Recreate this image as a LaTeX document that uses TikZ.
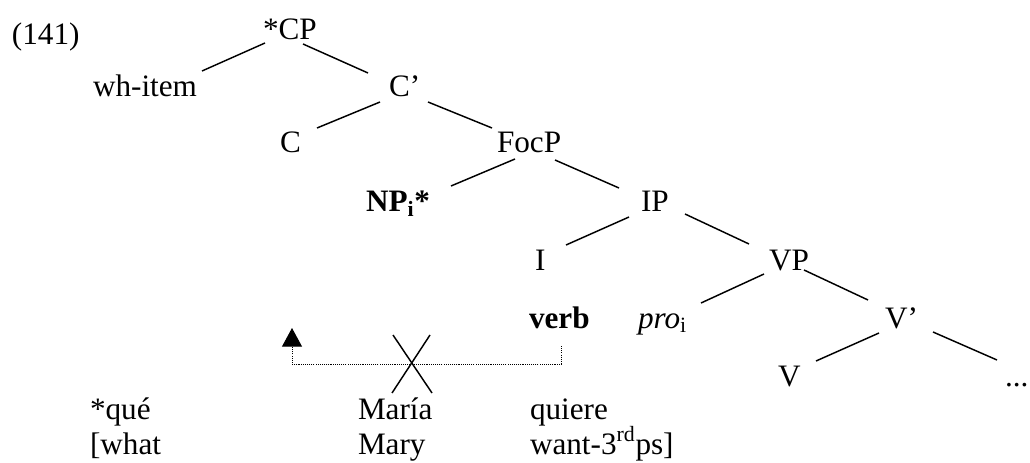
\documentclass[tikz,border=0pt]{standalone}
\usepackage{fontspec}
\setmainfont{Liberation Serif}
\usetikzlibrary{calc,arrows.meta}
\begin{document}
\begin{tikzpicture}[x=0.75pt,y=-0.75pt,
  lbl/.style={anchor=base west,inner sep=0pt,outer sep=0pt,font=\fontsize{23.4}{28}\selectfont},
  branch/.style={line width=1.1pt},
  move/.style={line width=0.75pt,dash pattern=on 0.8pt off 0.8pt}]
\useasboundingbox (0,0) rectangle (1030,463);
\node[lbl] (ex) at (12,45) {(141)};
\node[lbl] (CP) at (263,40) {*CP};
\node[lbl] (wh) at (93,97) {wh-item};
\node[lbl] (Cp) at (389,97) {C’};
\node[lbl] (C) at (280,153) {C};
\node[lbl] (FocP) at (497,153) {FocP};
\node[lbl] (NP) at (366,212) {\textbf{NP\textsubscript{i}*}};
\node[lbl] (IP) at (641,212) {IP};
\node[lbl] (I) at (535,270) {I};
\node[lbl] (VP) at (769,270) {VP};
\node[lbl] (verb) at (529,328) {\textbf{verb}};
\node[lbl] (pro) at (638,328) {\textit{pro}\textsubscript{i}};
\node[lbl] (Vp) at (885,328) {V’};
\node[lbl] (V) at (778,386) {V};
\node[lbl] (dots) at (1005,386) {...};
\node[lbl] (que) at (90,419) {*qué};
\node[lbl] (maria) at (358,419) {María};
\node[lbl] (quiere) at (530,419) {quiere};
\node[lbl] (what) at (90,454) {[what};
\node[lbl] (mary) at (358,454) {Mary};
\node[lbl] (want) at (530,454) {want-3\textsuperscript{rd}ps]};
% branches
\draw[branch] ($(CP.base west)+(2,3)$) -- ($(wh.base west)+(109,-26)$);
\draw[branch] ($(CP.base west)+(40,4)$) -- ($(Cp.base west)+(-21,-24)$);
\draw[branch] ($(Cp.base west)+(-9,5)$) -- ($(C.base west)+(37,-25)$);
\draw[branch] ($(Cp.base west)+(39,5)$) -- ($(FocP.base west)+(-5,-25)$);
\draw[branch] ($(FocP.base west)+(18,6)$) -- ($(NP.base west)+(85,-26)$);
\draw[branch] ($(FocP.base west)+(58,7)$) -- ($(IP.base west)+(-22,-24)$);
\draw[branch] ($(IP.base west)+(-12,5)$) -- ($(I.base west)+(31,-25)$);
\draw[branch] ($(IP.base west)+(44,2)$) -- ($(VP.base west)+(-20,-26)$);
\draw[branch] ($(VP.base west)+(-5,4)$) -- ($(pro.base west)+(63,-25)$);
\draw[branch] ($(VP.base west)+(35,0)$) -- ($(Vp.base west)+(-17,-28)$);
\draw[branch] ($(Vp.base west)+(-6,5)$) -- ($(V.base west)+(38,-25)$);
\draw[branch] ($(Vp.base west)+(48,4)$) -- ($(dots.base west)+(-8,-26)$);
% movement
\coordinate (tip) at (292,328);
\draw[move,-{Triangle[length=14pt,width=15pt]}] ($(verb.base west)+(32,18)$) |- (tip |- 0,364) -- (tip);
% cross
\draw[branch] (393,335) -- (432,393);
\draw[branch] (430,335) -- (392,393);
\end{tikzpicture}
\end{document}
